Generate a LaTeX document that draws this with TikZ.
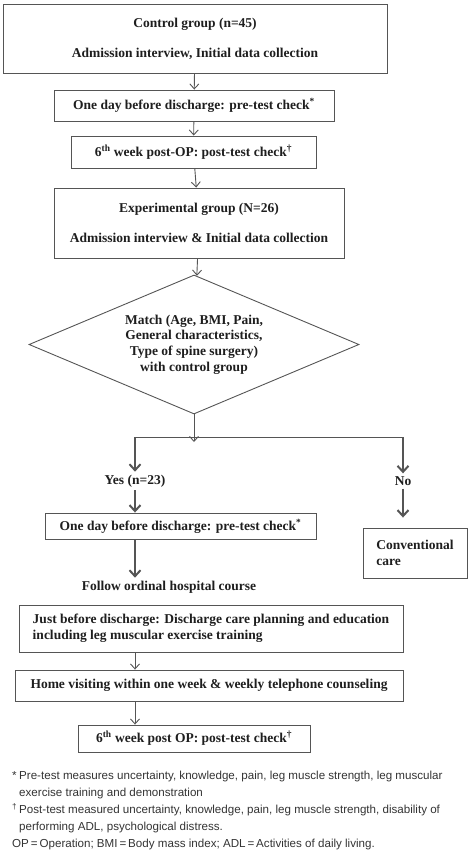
\documentclass[tikz,border=0pt]{standalone}
\usepackage{fontspec}
\setmainfont{Liberation Serif}
\setsansfont{Liberation Sans}
\usetikzlibrary{arrows.meta,shapes.geometric}
\definecolor{lineGray}{HTML}{555555}
\definecolor{textDark}{HTML}{1E1E1E}
\definecolor{noteGray}{HTML}{333333}
\tikzset{
  box/.style={draw=lineGray,line width=.9pt,text=textDark,inner sep=0pt,
    font=\fontsize{13.5}{16}\selectfont\bfseries},
  thin/.style={draw=lineGray,line width=.9pt,>={Straight Barb[length=5pt,width=9pt]},->},
  thick/.style={draw=lineGray,line width=2pt,>={Straight Barb[length=6pt,width=11pt]},->},
  lbl/.style={text=textDark,inner sep=3pt,font=\fontsize{13.5}{16}\selectfont\bfseries},
  note/.style={text=noteGray,inner sep=0pt,align=left,font=\sffamily\fontsize{11.6}{17}\selectfont}
}
\begin{document}
\begin{tikzpicture}[x=1pt,y=-1pt]
\useasboundingbox (0,0) rectangle (471,859);
% control group
\node[box,minimum width=384,minimum height=69,align=center] at (195,38.5)(ctrl){Control group (n=45)\\[14pt]Admission interview, Initial data collection};
\node[box,minimum width=280,minimum height=31] at (194,105.5)(preCtrl){One day before discharge: pre-test check\textsuperscript{*}};
\node[box,minimum width=245,minimum height=32] at (193.5,152)(postCtrl){6\textsuperscript{th} week post-OP: post-test check\textsuperscript{\textdagger}};
% experimental group
\node[box,minimum width=290,minimum height=70,align=center] at (199,223)(exper){Experimental group (N=26)\\[14pt]Admission interview \& Initial data collection};
\node[box,shape=diamond,aspect=2.37,minimum width=330,minimum height=139,align=center,font=\fontsize{13.5}{15.7}\selectfont\bfseries] at (194,344.5)(match){Match (Age, BMI, Pain,\\General characteristics,\\Type of spine surgery)\\with control group};
\coordinate (fork) at (194,442);
\coordinate (yesTop) at (135,437);
\coordinate (noTop) at (403,437);
\node[lbl] at (135,481)(yesLbl){Yes (n=23)};
\node[lbl] at (403,481)(noLbl){No};
\node[box,minimum width=271,minimum height=26] at (180.5,526)(preExp){One day before discharge: pre-test check\textsuperscript{*}};
\node[box,minimum width=104,minimum height=50,align=left] at (415,553)(conv){Conventional\\care};
\node[lbl] at (169,587)(follow){Follow ordinal hospital course};
\node[box,minimum width=384,minimum height=47,align=left] at (211,628.5)(justBefore){Just before discharge: Discharge care planning and education\\including leg muscular exercise training};
\node[box,minimum width=388,minimum height=31] at (209,685.5)(homeVisit){Home visiting within one week \& weekly telephone counseling};
\node[box,minimum width=232,minimum height=27] at (194,738.5)(postExp){6\textsuperscript{th} week post OP: post-test check\textsuperscript{\textdagger}};
% arrows
\path[thin] (ctrl) -- (preCtrl);
\path[thin] (preCtrl) -- (postCtrl);
\path[thin] (postCtrl) -- (exper);
\path[thin] (exper) -- (match);
\path[thin] (match.south) -- (fork);
\draw[lineGray,line width=.9pt] (yesTop) -- (noTop);
\path[thick] (yesTop) -- (yesLbl);
\path[thick] (noTop) -- (noLbl);
\path[thick] (yesLbl) -- (preExp.north -| yesLbl);
\path[thick,shorten >=10pt] (noLbl) -- (conv.north -| noLbl);
\path[thick] (preExp.south -| yesLbl) -- (follow.north -| yesLbl);
\path[thin] (justBefore.south -| yesLbl) -- (homeVisit.north -| yesLbl);
\path[thin] (homeVisit.south -| yesLbl) -- (postExp.north -| yesLbl);
% notes
\node[note,anchor=north west] at (12,771)(notes){\makebox[7pt][l]{*}Pre-test measures uncertainty, knowledge, pain, leg muscle strength, leg muscular\\
\hspace*{7pt}exercise training and demonstration\\
\makebox[7pt][l]{\textsuperscript{\textdagger}}Post-test measured uncertainty, knowledge, pain, leg muscle strength, disability of\\
\hspace*{7pt}performing ADL, psychological distress.\\
OP\,=\,Operation; BMI\,=\,Body mass index; ADL\,=\,Activities of daily living.};
\end{tikzpicture}
\end{document}
